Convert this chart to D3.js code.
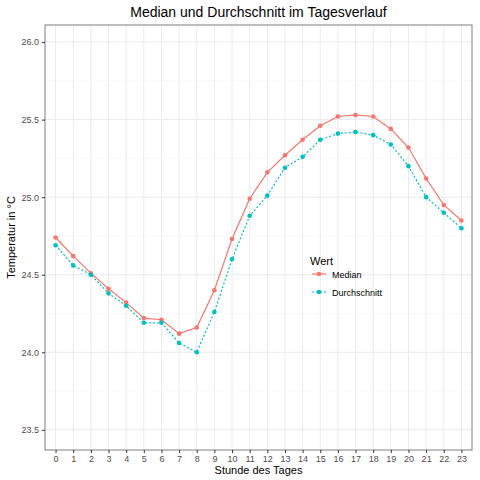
<!DOCTYPE html>
<html>
<head>
<meta charset="utf-8">
<script src="https://cdn.jsdelivr.net/npm/d3@7"></script>
<style>
body { margin: 0; background: #fff; }
text { font-family: "Liberation Sans", Arial, sans-serif; }
</style>
</head>
<body>
<script>
var hours = d3.range(24);
var median = [24.74, 24.62, 24.51, 24.41, 24.32, 24.22, 24.21, 24.12, 24.16, 24.40, 24.73, 24.99,
              25.16, 25.27, 25.37, 25.46, 25.52, 25.53, 25.52, 25.44, 25.32, 25.12, 24.95, 24.85];
var mean = [24.69, 24.56, 24.50, 24.38, 24.30, 24.19, 24.19, 24.06, 24.00, 24.26, 24.60, 24.88,
            25.01, 25.19, 25.26, 25.37, 25.41, 25.42, 25.40, 25.34, 25.20, 25.00, 24.90, 24.80];
var yTicks = [23.5, 24.0, 24.5, 25.0, 25.5, 26.0];
var series = [
  { name: "Median", values: median, color: "#F8766D", dash: null },
  { name: "Durchschnitt", values: mean, color: "#00BFC4", dash: "2,2" }
];

var W = 480, H = 480, pl = 45, pr = 472, pt = 25, pb = 450;
var svg = d3.select("body").append("svg").attr("width", W).attr("height", H);

var x = d3.scaleLinear().domain([-0.6, 23.6]).range([pl, pr]);
var y = d3.scaleLinear().domain([23.37, 26.11]).range([pb, pt]);

// grid
var minorY = d3.range(23.25, 26.2, 0.5).filter(function(v){ return v > 23.37 && v < 26.11; });
svg.selectAll(".my").data(minorY).enter().append("line")
  .attr("x1", pl).attr("x2", pr).attr("y1", y).attr("y2", y)
  .attr("stroke", "#f2f2f2").attr("stroke-width", 0.5);
svg.selectAll(".gy").data(yTicks).enter().append("line")
  .attr("x1", pl).attr("x2", pr).attr("y1", y).attr("y2", y)
  .attr("stroke", "#ebebeb").attr("stroke-width", 1);
svg.selectAll(".gx").data(hours).enter().append("line")
  .attr("y1", pt).attr("y2", pb).attr("x1", x).attr("x2", x)
  .attr("stroke", "#ebebeb").attr("stroke-width", 1);
svg.append("rect").attr("x", pl).attr("y", pt).attr("width", pr - pl).attr("height", pb - pt)
  .attr("fill", "none").attr("stroke", "#7f7f7f").attr("stroke-width", 1);

// axes
var xa = svg.append("g").attr("transform", "translate(0," + pb + ")")
  .call(d3.axisBottom(x).tickValues(hours).tickSize(3).tickFormat(d3.format("d")));
var ya = svg.append("g").attr("transform", "translate(" + pl + ",0)")
  .call(d3.axisLeft(y).tickValues(yTicks).tickSize(3).tickFormat(d3.format(".1f")));
[xa, ya].forEach(function(a){
  a.select(".domain").remove();
  a.selectAll("line").attr("stroke", "#333");
  a.selectAll("text").attr("fill", "#4d4d4d").attr("font-size", 9);
});

var line = d3.line().x(function(d, i){ return x(i); }).y(function(d){ return y(d); });
series.forEach(function(s){
  svg.append("path").datum(s.values).attr("d", line).attr("fill", "none")
    .attr("stroke", s.color).attr("stroke-width", 1.2).attr("stroke-dasharray", s.dash);
  svg.selectAll(null).data(s.values).enter().append("circle")
    .attr("cx", function(d, i){ return x(i); }).attr("cy", y).attr("r", 2.3).attr("fill", s.color);
});

// titles
svg.append("text").attr("x", (pl + pr) / 2).attr("y", 17).attr("text-anchor", "middle")
  .attr("font-size", 14).text("Median und Durchschnitt im Tagesverlauf");
svg.append("text").attr("x", (pl + pr) / 2).attr("y", 474).attr("text-anchor", "middle")
  .attr("font-size", 11).text("Stunde des Tages");
svg.append("text").attr("transform", "translate(15," + ((pt + pb) / 2) + ") rotate(-90)")
  .attr("text-anchor", "middle").attr("font-size", 11).text("Temperatur in °C");

// legend
var lg = svg.append("g").attr("transform", "translate(310,250)");
lg.append("text").attr("x", 0).attr("y", 15).attr("font-size", 11).text("Wert");
series.forEach(function(s, i){
  var g = lg.append("g").attr("transform", "translate(0," + (24 + i * 18) + ")");
  g.append("line").attr("x1", 2).attr("x2", 16).attr("y1", 0).attr("y2", 0)
    .attr("stroke", s.color).attr("stroke-width", 1.2).attr("stroke-dasharray", s.dash);
  g.append("circle").attr("cx", 9).attr("cy", 0).attr("r", 2.3).attr("fill", s.color);
  g.append("text").attr("x", 22).attr("y", 3.5).attr("font-size", 9).text(s.name);
});
</script>
</body>
</html>
